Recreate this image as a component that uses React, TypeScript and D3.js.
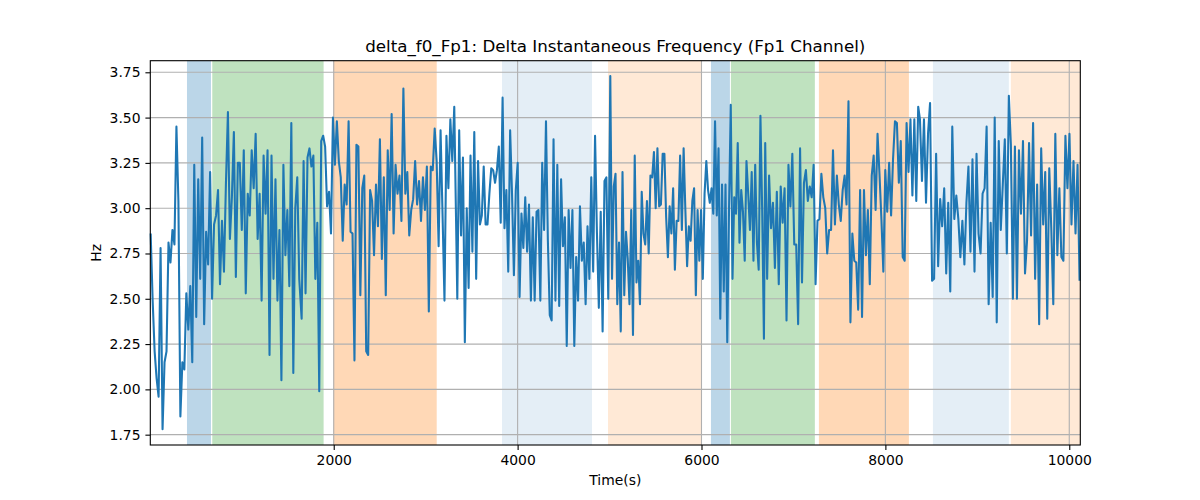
import * as d3 from "d3";
import React, { useEffect, useRef } from "react";

// readings, split in the six stretches they were read from
const segA = [
  2.86, 2.49, 2.21, 2.06, 1.96, 2.78, 1.78, 2.15, 2.21, 2.81, 2.7, 2.88, 2.8, 3.45, 3.04, 1.85,
  2.15, 2.11, 2.53, 2.33, 2.57, 2.15, 3.24, 2.4, 3.16, 2.61, 3.39, 2.36, 2.87, 2.69, 3.2, 2.5,
  2.91, 2.96, 3.1, 2.58, 2.93, 2.65, 3.14, 3.53, 2.83, 3.06, 3.42, 2.62, 3.25, 3.25, 2.88, 3.32,
  2.53, 3.08, 2.96, 3.32, 3.11, 3.41, 2.83, 3.08, 2.49, 3.29, 2.97, 3.32, 2.19, 3.29, 2.61, 3.16,
  2.49, 2.88, 2.05, 3.24, 2.74, 2.99, 2.57, 3.47, 2.09, 3.0, 3.17, 2.61,
];
const segB = [
  2.39, 3.26, 2.53, 3.28, 3.33, 3.23, 3.29, 2.61, 2.92, 1.99, 3.37, 3.4, 3.34, 3.01, 3.09, 2.86,
  3.5, 3.24, 3.48, 3.26, 3.17, 2.82, 3.13, 3.02, 3.48, 2.87, 2.86, 2.16, 3.35, 3.34, 2.52, 3.11,
  3.18, 2.21, 2.19, 3.1, 3.04, 2.74, 3.13, 2.9, 3.38, 2.72, 3.17, 2.52, 3.32, 2.99, 3.52, 2.86,
  3.24, 3.08, 3.18, 2.93, 3.66, 3.08, 3.2, 2.85, 2.99, 3.05, 3.26, 3.02, 3.15, 2.93, 3.17, 2.99,
  3.23, 2.43, 3.23, 3.21, 3.44, 3.26, 2.79, 3.43, 2.97, 2.49, 3.4, 3.11, 3.49, 3.26, 3.56,
];
const segC = [
  2.5, 3.43, 2.85, 3.28, 2.26, 3.0, 2.56, 3.29, 2.76, 3.42, 2.61, 3.26, 2.91, 2.96, 3.23, 2.91,
  2.91, 3.08, 3.22, 3.21, 3.14, 3.21, 3.34, 2.92, 3.61, 2.89, 3.1, 2.65, 3.43, 3.08, 2.63, 3.1,
  3.25, 2.51, 2.97, 2.78, 3.06, 2.76, 3.02, 2.49, 2.95, 2.49, 2.98, 2.99, 2.49, 3.25, 2.88, 3.48,
  2.82, 2.41, 2.38, 3.38, 2.49, 3.24, 2.46, 3.16, 2.79, 2.95, 2.24, 2.99, 2.67, 2.99, 2.24, 2.73,
  2.49, 3.01, 2.71, 2.81, 2.47, 2.9, 2.61, 3.17, 2.65, 3.4, 2.86, 2.45, 2.98, 2.32, 3.15, 3.17,
  2.5,
];
const segD = [
  3.73, 2.61, 3.12, 3.19, 2.47, 2.81, 2.32, 3.2, 2.52, 2.87, 2.72, 2.47, 2.99, 2.3, 3.29, 2.59,
  2.71, 2.47, 3.09, 2.86, 2.8, 3.04, 2.75, 3.18, 3.17, 3.31, 3.0, 3.33, 3.01, 3.02, 3.3, 3.3,
  2.95, 2.73, 3.01, 2.86, 3.11, 2.66, 2.93, 2.93, 3.29, 2.88, 3.33, 2.99, 2.68, 2.9, 2.82, 3.04,
  3.11, 2.52, 2.99, 2.71, 2.99, 2.61, 3.08, 3.26, 3.1, 3.03, 3.11, 2.97, 3.48, 2.96, 3.33, 2.39,
  3.13, 2.54, 3.13, 2.26, 2.99, 3.57, 2.61, 3.06, 2.97, 3.36, 2.81, 3.1, 2.98, 2.71, 3.26, 3.08,
  2.88, 3.2, 2.71, 3.24, 2.81, 2.66, 3.51, 2.99, 2.28,
];
const segE = [
  3.36, 2.61, 3.18, 2.89, 3.03, 2.67, 3.09, 2.58, 3.12, 2.92, 3.11, 2.38, 3.24, 3.01, 3.3, 2.8,
  2.8, 2.36, 3.33, 2.59, 3.14, 3.21, 3.04, 3.12, 3.06, 3.24, 2.58, 2.93, 2.94, 3.19, 3.06, 3.0,
  2.75, 2.88, 2.88, 3.32, 2.91, 3.18, 3.02, 2.93, 3.1, 3.18, 3.02, 3.59, 2.37, 2.86, 2.71, 2.7,
  2.44, 3.1, 2.4, 3.1, 2.74, 2.99, 2.58, 3.18, 3.29, 2.99, 3.41, 3.19, 2.94, 2.65, 3.21, 2.98,
  3.25, 2.96, 3.27, 3.48, 3.47, 3.14, 3.37, 2.73, 2.71, 3.47, 3.2, 3.49, 3.07, 3.49, 3.04, 3.56,
];
const segF = [
  3.49, 3.15, 3.49, 3.03, 3.41, 3.58, 2.6, 2.61, 3.3, 2.68, 3.05, 2.9, 3.11, 2.64, 3.03, 2.54,
  3.45, 2.94, 3.07, 2.94, 2.73, 2.93, 2.69, 3.03, 3.23, 2.76, 3.27, 2.65, 3.3, 2.86, 2.75, 3.08,
  3.11, 3.45, 2.47, 2.92, 2.51, 3.5, 2.37, 3.37, 2.88, 3.13, 3.38, 2.75, 3.62, 3.35, 2.5, 3.34,
  2.5, 3.32, 2.97, 3.37, 2.64, 2.82, 3.36, 2.85, 3.47, 2.61, 3.13, 2.36, 3.33, 2.91, 3.2, 2.39,
  3.22, 2.89, 2.47, 3.41, 2.74, 3.11, 2.73, 2.71, 3.4, 3.11, 3.41, 2.91, 3.26, 2.86, 3.24, 2.6,
];
const segments = [segA, segB, segC, segD, segE, segF];
const segStart = [9, 1651, 3344, 5008, 6693, 8376];
const segEnd = [1625, 3311, 4986, 6679, 8357, 10112];

// shaded stages
const spanStart = [404, 679, 1995, 3830, 4983, 6103, 6320, 7277, 8517, 9365];
const spanEnd = [665, 1890, 3120, 4809, 6002, 6309, 7233, 8256, 9343, 10120];
const spanKind = ["b", "g", "o", "lb", "lo", "b", "g", "o", "lb", "lo"];
const spanColor: Record<string, string> = {
  b: "rgba(31,119,180,0.3)",
  g: "rgba(44,160,44,0.3)",
  o: "rgba(255,127,14,0.3)",
  lb: "rgba(31,119,180,0.12)",
  lo: "rgba(255,127,14,0.17)",
};

const xTicks = [2000, 4000, 6000, 8000, 10000];
const yTicks = [1.75, 2.0, 2.25, 2.5, 2.75, 3.0, 3.25, 3.5, 3.75];

const W = 1200;
const H = 500;
const margin = { top: 60.7, right: 119.7, bottom: 55, left: 150.3 };
const font = "DejaVu Sans, sans-serif";

const App: React.FC = () => {
  const ref = useRef<SVGSVGElement>(null);

  useEffect(() => {
    if (!ref.current) return;
    const svg = d3.select(ref.current);
    svg.selectAll("*").remove();

    const iw = W - margin.left - margin.right;
    const ih = H - margin.top - margin.bottom;

    const x = d3.scaleLinear().domain([5, 10120]).range([0, iw]);
    const y = d3.scaleLinear().domain([1.693, 3.814]).range([ih, 0]);

    const points: [number, number][] = [];
    segments.forEach((vals, s) => {
      const step = (segEnd[s] - segStart[s]) / (vals.length - 1);
      vals.forEach((v, i) => points.push([segStart[s] + i * step, v]));
    });

    svg.append("rect").attr("width", W).attr("height", H).attr("fill", "#fff");

    const g = svg
      .append("g")
      .attr("transform", `translate(${margin.left},${margin.top})`);

    // stage spans
    g.selectAll(".span")
      .data(spanStart.map((s, i) => ({ s, e: spanEnd[i], k: spanKind[i] })))
      .enter()
      .append("rect")
      .attr("x", (d) => x(d.s))
      .attr("width", (d) => x(d.e) - x(d.s))
      .attr("y", 0)
      .attr("height", ih)
      .attr("fill", (d) => spanColor[d.k]);

    // grid
    g.selectAll(".gx")
      .data(xTicks)
      .enter()
      .append("line")
      .attr("x1", (d) => x(d))
      .attr("x2", (d) => x(d))
      .attr("y1", 0)
      .attr("y2", ih)
      .attr("stroke", "#b0b0b0")
      .attr("stroke-width", 1.1);
    g.selectAll(".gy")
      .data(yTicks)
      .enter()
      .append("line")
      .attr("x1", 0)
      .attr("x2", iw)
      .attr("y1", (d) => y(d))
      .attr("y2", (d) => y(d))
      .attr("stroke", "#b0b0b0")
      .attr("stroke-width", 1.1);

    // signal
    const line = d3
      .line<[number, number]>()
      .x((d) => x(d[0]))
      .y((d) => y(d[1]));
    g.append("path")
      .datum(points)
      .attr("d", line)
      .attr("fill", "none")
      .attr("stroke", "#1f77b4")
      .attr("stroke-width", 2.08)
      .attr("stroke-linejoin", "round");

    // axes
    const xAxis = g
      .append("g")
      .attr("transform", `translate(0,${ih})`)
      .call(d3.axisBottom(x).tickValues(xTicks).tickSize(4.9).tickPadding(4.9).tickFormat(d3.format("d")));
    const yAxis = g
      .append("g")
      .call(d3.axisLeft(y).tickValues(yTicks).tickSize(4.9).tickPadding(4.9).tickFormat(d3.format(".2f")));
    [xAxis, yAxis].forEach((a) => {
      a.select(".domain").remove();
      a.selectAll("line").attr("stroke", "#000").attr("stroke-width", 1.1);
      a.selectAll("text")
        .attr("fill", "#000")
        .style("font-family", font)
        .style("font-size", "13.9px");
    });

    // frame
    g.append("rect")
      .attr("width", iw)
      .attr("height", ih)
      .attr("fill", "none")
      .attr("stroke", "#000")
      .attr("stroke-width", 1.1);

    svg
      .append("text")
      .attr("x", margin.left + iw / 2)
      .attr("y", 52.4)
      .attr("text-anchor", "middle")
      .style("font-family", font)
      .style("font-size", "16.7px")
      .text("delta_f0_Fp1: Delta Instantaneous Frequency (Fp1 Channel)");

    svg
      .append("text")
      .attr("x", margin.left + iw / 2)
      .attr("y", 485)
      .attr("text-anchor", "middle")
      .style("font-family", font)
      .style("font-size", "13.9px")
      .text("Time(s)");

    svg
      .append("text")
      .attr("transform", `translate(101,${margin.top + ih / 2}) rotate(-90)`)
      .attr("text-anchor", "middle")
      .style("font-family", font)
      .style("font-size", "13.9px")
      .text("Hz");
  }, []);

  return (
    <svg
      ref={ref}
      width={W}
      height={H}
      style={{ position: "absolute", left: 0, top: 0 }}
    />
  );
};

export default App;
